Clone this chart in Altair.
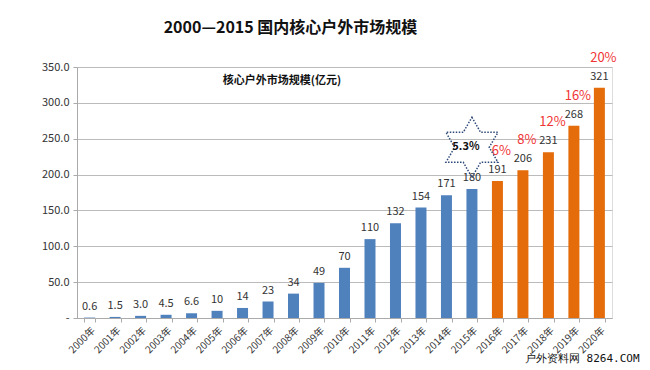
import altair as alt
import pandas as pd

years = ["2000年", "2001年", "2002年", "2003年", "2004年", "2005年", "2006年",
         "2007年", "2008年", "2009年", "2010年", "2011年", "2012年", "2013年",
         "2014年", "2015年", "2016年", "2017年", "2018年", "2019年", "2020年"]
values = [0.6, 1.5, 3.0, 4.5, 6.6, 10, 14, 23, 34, 49, 70, 110, 132, 154,
          171, 180, 191, 206, 231, 268, 321]
value_labels = ["0.6", "1.5", "3.0", "4.5", "6.6", "10", "14", "23", "34", "49",
                "70", "110", "132", "154", "171", "180", "191", "206", "231",
                "268", "321"]
kinds = ["实际"] * 16 + ["预测"] * 5
growth = [""] * 16 + ["6%", "8%", "12%", "16%", "20%"]

star_year = ["2015年"]
star_value = [238]
star_text = ["5.3%"]

df = pd.DataFrame({"year": years, "value": values, "label": value_labels,
                   "kind": kinds, "growth": growth})
star_df = pd.DataFrame({"year": star_year, "value": star_value, "text": star_text})
wm_df = pd.DataFrame({"t": ["户外资料网 8264.COM"]})
sub_df = pd.DataFrame({"t": ["核心户外市场规模(亿元)"]})

FONT = "Noto Sans CJK SC"

x_scale = alt.Scale(paddingInner=0.57, paddingOuter=0.28)
x_axis = alt.Axis(labelAngle=-45, labelFontSize=10, labelColor="#333333",
                  labelFont=FONT, domainColor="#aaaaaa", tickColor="#aaaaaa",
                  tickSize=4, tickBand="extent", labelPadding=3,
                  labelAlign="right", labelBaseline="top")
y_scale = alt.Scale(domain=[0, 350], nice=False)
y_axis = alt.Axis(values=[0, 50, 100, 150, 200, 250, 300, 350],
                  labelExpr="datum.value == 0 ? '-' : format(datum.value, '.1f')",
                  labelOverlap=False,
                  labelFontSize=11, labelColor="#333333", labelFont=FONT,
                  domainColor="#aaaaaa", tickColor="#aaaaaa", tickSize=4,
                  gridColor="#bbbbbb", labelPadding=4)


def xe():
    return alt.X("year:N", sort=years, title=None, scale=x_scale, axis=x_axis)


def ye():
    return alt.Y("value:Q", scale=y_scale, title=None, axis=y_axis)


base = alt.Chart(df)

bars = base.mark_bar(size=11).encode(
    x=xe(), y=ye(),
    color=alt.Color("kind:N", scale=alt.Scale(domain=["实际", "预测"],
                                              range=["#4F81BD", "#E46C0A"]),
                    legend=None))

vlabels = base.mark_text(dy=-11, fontSize=11, color="#333333", font=FONT,
                         baseline="middle").encode(
    x=xe(), y=ye(), text="label:N")

glabels = base.mark_text(dy=-30, dx=4, fontSize=13, color="#F03535", font=FONT,
                         baseline="middle").encode(
    x=xe(), y=ye(), text="growth:N")

star_path = ("M0,-1 L0.289,-0.5 L0.866,-0.5 L0.577,0 L0.866,0.5 L0.289,0.5 "
             "L0,1 L-0.289,0.5 L-0.866,0.5 L-0.577,0 L-0.866,-0.5 L-0.289,-0.5 Z")
star = alt.Chart(star_df).mark_point(
    shape=star_path, size=3600, filled=False, stroke="#2E4A7A", strokeWidth=1.5,
    strokeDash=[1.5, 1.5], dx=-6, opacity=1).encode(x=xe(), y=ye())
star_txt = alt.Chart(star_df).mark_text(
    fontSize=11, fontWeight="bold", color="#111111", font=FONT, dx=-6).encode(
    x=xe(), y=ye(), text="text:N")

subtitle = alt.Chart(sub_df).mark_text(
    fontSize=11, fontWeight="bold", color="#111111", font=FONT).encode(
    x=alt.value(205), y=alt.value(14), text="t:N")

watermark = alt.Chart(wm_df).mark_text(
    fontSize=11, color="#111111", font="DejaVu Sans Mono", align="left",
    baseline="middle").encode(
    x=alt.value(448), y=alt.value(292), text="t:N")

chart = alt.layer(bars, vlabels, glabels, star, star_txt, subtitle, watermark).properties(
    width=535, height=251,
    title=alt.Title("2000—2015 国内核心户外市场规模", fontSize=16, fontWeight="bold",
                    font=FONT, color="#111111", offset=16, dx=-54, anchor="middle"),
    autosize=alt.AutoSizeParams(type="none"),
    padding={"left": 69, "top": 59, "right": 30, "bottom": 46},
).configure_view(stroke=None).configure(background="white")

chart.save("out.html", embed_options={"renderer": "svg", "actions": False})
